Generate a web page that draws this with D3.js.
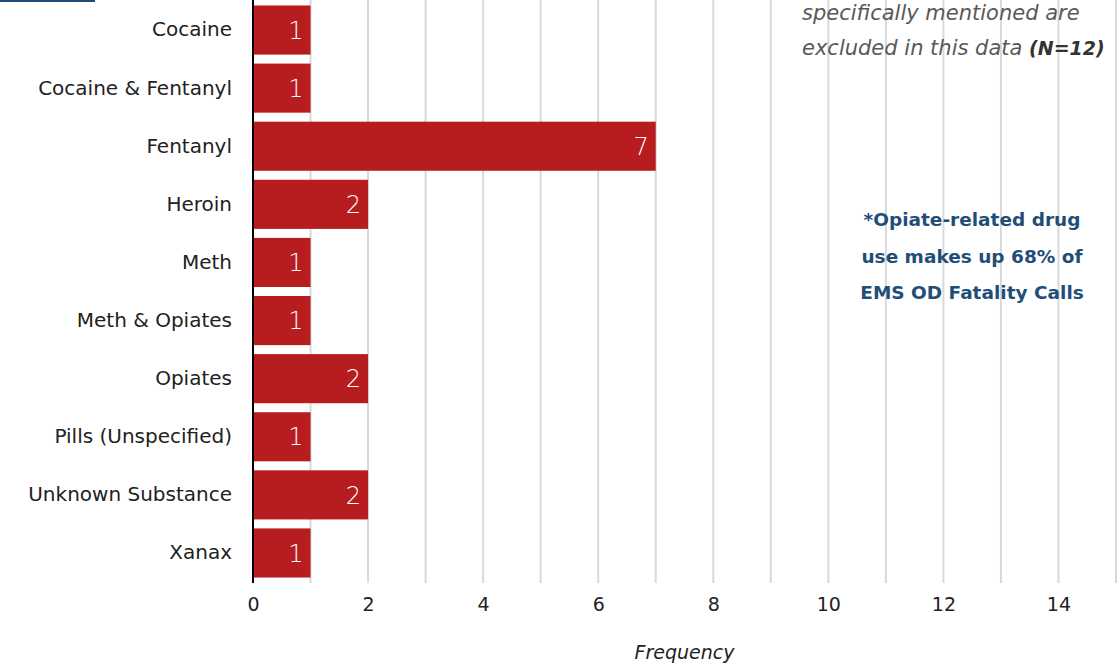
<!DOCTYPE html>
<html>
<head>
<meta charset="utf-8">
<script src="https://cdn.jsdelivr.net/npm/d3@7"></script>
<style>
  html, body { margin: 0; padding: 0; background: #fff; }
  svg { display: block; font-family: "DejaVu Sans", "Noto Sans", sans-serif; }
</style>
</head>
<body>
<svg id="chart" width="1120" height="663"></svg>
<script>
// Substances involved in EMS overdose fatality calls
const categories = ["Cocaine", "Cocaine & Fentanyl", "Fentanyl", "Heroin", "Meth",
  "Meth & Opiates", "Opiates", "Pills (Unspecified)", "Unknown Substance", "Xanax"];
const frequencies = [1, 1, 7, 2, 1, 1, 2, 1, 2, 1];
const xTicks = [0, 2, 4, 6, 8, 10, 12, 14];
const gridValues = d3.range(1, 16);
const noteLines = ["specifically mentioned are", "excluded in this data "];
const noteBold = "(N=12)";
const calloutLines = ["*Opiate-related drug", "use makes up 68% of", "EMS OD Fatality Calls"];

const svg = d3.select("#chart");
const margin = { left: 253, right: 1116, top: 1, bottom: 582 };

const x = d3.scaleLinear().domain([0, 15]).range([margin.left, margin.right]);
const y = d3.scaleBand().domain(categories).range([margin.top, margin.bottom])
  .paddingInner(0.155).paddingOuter(0.077);

// header accent rule
svg.append("rect").attr("x", 0).attr("y", 0).attr("width", 95).attr("height", 2)
  .attr("fill", "#1f4e79");

// vertical gridlines
svg.append("g").selectAll("line").data(gridValues).join("line")
  .attr("x1", d => x(d)).attr("x2", d => x(d))
  .attr("y1", 0).attr("y2", 583)
  .attr("stroke", "#d9d9d9").attr("stroke-width", 2);

// bars
svg.append("g").selectAll("rect").data(categories).join("rect")
  .attr("x", x(0))
  .attr("y", d => y(d))
  .attr("width", (d, i) => x(frequencies[i]) - x(0))
  .attr("height", y.bandwidth())
  .attr("fill", "#b71c1f");

// value labels inside bar ends
svg.append("g").selectAll("text").data(categories).join("text")
  .attr("x", (d, i) => x(frequencies[i]) - 7)
  .attr("y", d => y(d) + y.bandwidth() / 2)
  .attr("dy", "0.36em")
  .attr("text-anchor", "end")
  .attr("fill", "#fff")
  .attr("font-size", 24)
  .attr("font-weight", 300)
  .text((d, i) => frequencies[i]);

// category axis
const yAxis = svg.append("g").attr("transform", `translate(${x(0)},0)`)
  .call(d3.axisLeft(y).tickSize(0).tickPadding(21));
yAxis.select(".domain").remove();
yAxis.selectAll("text").attr("font-size", 20).attr("fill", "#222")
  .attr("font-family", "DejaVu Sans, sans-serif");
svg.append("line").attr("x1", x(0)).attr("x2", x(0)).attr("y1", 0).attr("y2", 583)
  .attr("stroke", "#000").attr("stroke-width", 2);

// value axis
const xAxis = svg.append("g").attr("transform", `translate(0,${margin.bottom})`)
  .call(d3.axisBottom(x).tickValues(xTicks).tickSize(0).tickPadding(16));
xAxis.select(".domain").remove();
xAxis.selectAll("text").attr("font-size", 19).attr("fill", "#222")
  .attr("font-family", "DejaVu Sans, sans-serif");

svg.append("text")
  .attr("x", (margin.left + margin.right) / 2).attr("y", 659)
  .attr("text-anchor", "middle").attr("font-style", "italic")
  .attr("font-size", 19).attr("fill", "#222")
  .text("Frequency");

// note in the upper right
const note = svg.append("g").attr("fill", "#595959").attr("font-style", "italic").attr("font-size", 21);
note.append("text").attr("x", 802).attr("y", 20).text(noteLines[0]);
const n2 = note.append("text").attr("x", 802).attr("y", 55).text(noteLines[1]);
n2.append("tspan").attr("font-weight", "bold").attr("font-size", 19).attr("fill", "#333").text(noteBold);

// callout
svg.append("g").selectAll("text").data(calloutLines).join("text")
  .attr("x", 972).attr("y", (d, i) => 226 + i * 36.5)
  .attr("text-anchor", "middle")
  .attr("font-weight", "bold").attr("font-size", 18.5)
  .attr("fill", "#1f4e79")
  .text(d => d);
</script>
</body>
</html>
